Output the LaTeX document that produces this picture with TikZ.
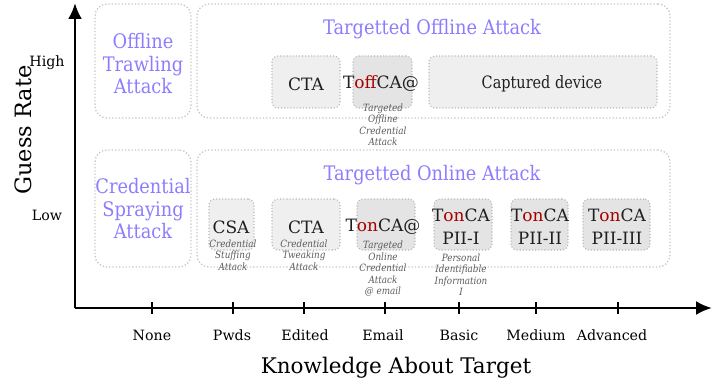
\documentclass[tikz,border=0pt]{standalone}
\usepackage{fontspec}
\setmainfont{DejaVu Serif}
\newfontfamily\titlefont{DejaVu Serif}[FakeStretch=0.89]
\newfontfamily\devfont{DejaVu Serif}[FakeStretch=0.85]
\newfontfamily\subfont{DejaVu Serif}[FakeStretch=0.88]
\usetikzlibrary{arrows.meta}

\definecolor{atkpurple}{RGB}{140,124,255}
\definecolor{offred}{RGB}{165,0,0}
\definecolor{boxgray}{RGB}{239,239,239}
\definecolor{boxdark}{RGB}{228,228,228}
\definecolor{subgray}{RGB}{90,90,90}

\tikzset{
  bigbox/.style={draw=black!22, dotted, line width=1.3pt, rounded corners=12pt, inner sep=0pt},
  smallbox/.style={draw=black!28, dotted, line width=1.1pt, fill=boxgray, rounded corners=6pt, inner sep=0pt},
  darkbox/.style={smallbox, fill=boxdark},
  grouptitle/.style={text=atkpurple, align=center, font=\titlefont\fontsize{20}{22.5}\selectfont},
  atk/.style={text=black!88, align=center, font=\fontsize{17}{23}\selectfont},
  atksub/.style={text=subgray, align=center, inner sep=0pt, font=\subfont\fontsize{10}{11.5}\selectfont\itshape},
  axlabel/.style={font=\fontsize{14.2}{16}\selectfont},
  axname/.style={font=\fontsize{21.5}{24}\selectfont},
  axline/.style={line width=2.6pt, -{Latex[length=16pt,width=14pt]}}
}

\newcommand{\hlpart}[1]{\textcolor{offred}{#1}}

\begin{document}
\begin{tikzpicture}[x=1pt, y=-1pt]
    \useasboundingbox (0,0) rectangle (717,385);

    % axes
    \coordinate (orig) at (75,308);
    \coordinate (ytip) at (75,3);
    \coordinate (xtip) at (712,308);
    \draw [axline] (orig) -- (ytip);
    \draw [axline] (orig) -- (xtip);

    \draw [line width=1.3pt] (152,302) -- (152,314);
    \draw [line width=1.3pt] (233,302) -- (233,314);
    \draw [line width=1.3pt] (304,302) -- (304,314);
    \draw [line width=1.3pt] (385,302) -- (385,314);
    \draw [line width=1.3pt] (459,302) -- (459,314);
    \draw [line width=1.3pt] (536,302) -- (536,314);
    \draw [line width=1.3pt] (618,302) -- (618,314);

    \node [axlabel] (none) at (152,335) {None};
    \node [axlabel] (pwds) at (232,335) {Pwds};
    \node [axlabel] (edited) at (305,335) {Edited};
    \node [axlabel] (email) at (383,335) {Email};
    \node [axlabel] (basic) at (459,335) {Basic};
    \node [axlabel] (medium) at (536,335) {Medium};
    \node [axlabel] (advanced) at (612,335) {Advanced};
    \node [axname] (knowledge) at (396,368) {Knowledge About Target};

    \node [axlabel] (high) at (47,63) {High};
    \node [axlabel] (low) at (47,215) {Low};
    \node [axname, font=\fontsize{22.5}{24}\selectfont, rotate=90] (guessrate) at (23,130) {Guess Rate};

    % offline row
    \node [bigbox, minimum width=96, minimum height=114] (trawlbox) at (143,61) {};
    \node [grouptitle] (trawl) at (143,64) {Offline\\Trawling\\Attack};
    \node [bigbox, minimum width=473, minimum height=114] (toffbox) at (433.5,61) {};
    \node [grouptitle] (tofftitle) at (432,29) {Targetted Offline Attack};

    \node [smallbox, minimum width=68, minimum height=52] (ctaoffbox) at (306,82) {};
    \node [atk] (ctaoff) at (306,84) {CTA};
    \node [darkbox, minimum width=59, minimum height=52] (toffcabox) at (382.5,82) {};
    \node [atk] (toffca) at (381,84) {T\hlpart{off}CA@};
    \node [atksub] (toffcasub) at (383,125) {Targeted\\Offline\\Credential\\Attack};
    \node [smallbox, minimum width=228, minimum height=52] (devbox) at (543,82) {};
    \node [atk, font=\devfont\fontsize{17}{22}\selectfont] (device) at (542,84) {Captured device};

    % online row
    \node [bigbox, minimum width=96, minimum height=117] (spraybox) at (143,208.5) {};
    \node [grouptitle] (spray) at (143,209) {Credential\\Spraying\\Attack};
    \node [bigbox, minimum width=473, minimum height=117] (tonbox) at (433.5,208.5) {};
    \node [grouptitle] (tontitle) at (432,175) {Targetted Online Attack};

    \node [smallbox, minimum width=45, minimum height=51] (csabox) at (231.5,224.5) {};
    \node [atk] (csa) at (231,227) {CSA};
    \node [atksub] (csasub) at (233,255) {Credential\\Stuffing\\Attack};
    \node [smallbox, minimum width=68, minimum height=51] (ctaonbox) at (306,224.5) {};
    \node [atk] (ctaon) at (306,227) {CTA};
    \node [atksub] (ctaonsub) at (304,255) {Credential\\Tweaking\\Attack};
    \node [darkbox, minimum width=58, minimum height=51] (toncabox) at (386,224.5) {};
    \node [atk] (tonca) at (383,227) {T\hlpart{on}CA@};
    \node [atksub] (toncasub) at (383,269) {Targeted\\Online\\Credential\\Attack\\@ email};
    \node [darkbox, minimum width=58, minimum height=51] (piiibox) at (463,224.5) {};
    \node [atk] (piii) at (461,226.5) {T\hlpart{on}CA\\PII-I};
    \node [atksub] (piiisub) at (461,274.5) {Personal\\Identifiable\\Information\\I};
    \node [darkbox, minimum width=57, minimum height=51] (piiiibox) at (539.5,224.5) {};
    \node [atk] (piiii) at (540,226.5) {T\hlpart{on}CA\\PII-II};
    \node [darkbox, minimum width=67, minimum height=51] (piiiiibox) at (616.5,224.5) {};
    \node [atk] (piiiii) at (617,226.5) {T\hlpart{on}CA\\PII-III};
\end{tikzpicture}
\end{document}
